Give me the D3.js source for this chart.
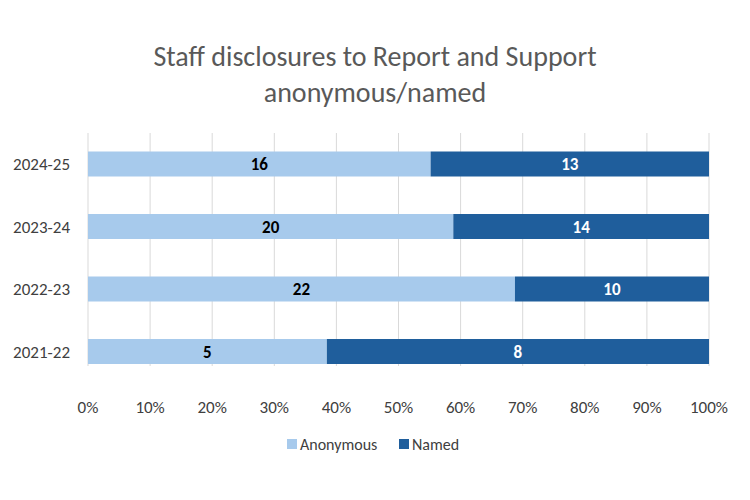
<!DOCTYPE html>
<html><head><meta charset="utf-8">
<script src="https://cdn.jsdelivr.net/npm/d3@7/dist/d3.min.js"></script>
<style>body{margin:0;background:#fff}text{font-family:Calibri,Carlito,"Liberation Sans",sans-serif}</style>
</head><body><svg id="c" width="750" height="500"></svg>
<script>
const categories = ["2024-25","2023-24","2022-23","2021-22"];
const anonymous = [16,20,22,5];
const named = [13,14,10,8];
const ticks = [0,0.1,0.2,0.3,0.4,0.5,0.6,0.7,0.8,0.9,1];
const cLight="#A7CAEC", cDark="#1F5E9C";
const svg=d3.select("#c");
const x=d3.scaleLinear().domain([0,1]).range([88,709]);
const y=d3.scalePoint().domain(categories).range([164,351.5]);
const bh=25;
svg.append("text").attr("x",375).attr("y",66).attr("text-anchor","middle").attr("font-size",28).attr("fill","#595959").text("Staff disclosures to Report and Support");
svg.append("text").attr("x",375).attr("y",102).attr("text-anchor","middle").attr("font-size",28).attr("fill","#595959").text("anonymous/named");
ticks.forEach(t=>{
 svg.append("line").attr("x1",x(t)).attr("x2",x(t)).attr("y1",133).attr("y2",366).attr("stroke","#d9d9d9");
 svg.append("text").attr("x",x(t)).attr("y",413).attr("text-anchor","middle").attr("font-size",17).attr("fill","#404040").text(Math.round(t*100)+"%");
});
categories.forEach((c,i)=>{
 const tot=anonymous[i]+named[i], p=anonymous[i]/tot;
 const cy=y(c), yy=cy-bh/2, h=bh;
 svg.append("rect").attr("x",x(0)).attr("y",yy).attr("width",x(p)-x(0)).attr("height",h).attr("fill",cLight);
 svg.append("rect").attr("x",x(p)).attr("y",yy).attr("width",x(1)-x(p)).attr("height",h).attr("fill",cDark);
 svg.append("text").attr("x",(x(0)+x(p))/2).attr("y",cy+6).attr("text-anchor","middle").attr("font-size",17).attr("font-weight","bold").attr("fill","#000").text(anonymous[i]);
 svg.append("text").attr("x",(x(p)+x(1))/2).attr("y",cy+6).attr("text-anchor","middle").attr("font-size",17).attr("font-weight","bold").attr("fill","#fff").text(named[i]);
 svg.append("text").attr("x",70).attr("y",cy+6).attr("text-anchor","end").attr("font-size",17).attr("fill","#404040").text(c);
});
const leg=[["Anonymous",cLight,287],["Named",cDark,399]];
leg.forEach(([t,col,lx])=>{
 svg.append("rect").attr("x",lx).attr("y",439).attr("width",10).attr("height",10).attr("fill",col);
 svg.append("text").attr("x",lx+13).attr("y",450).attr("font-size",16).attr("fill","#404040").text(t);
});
</script></body></html>
